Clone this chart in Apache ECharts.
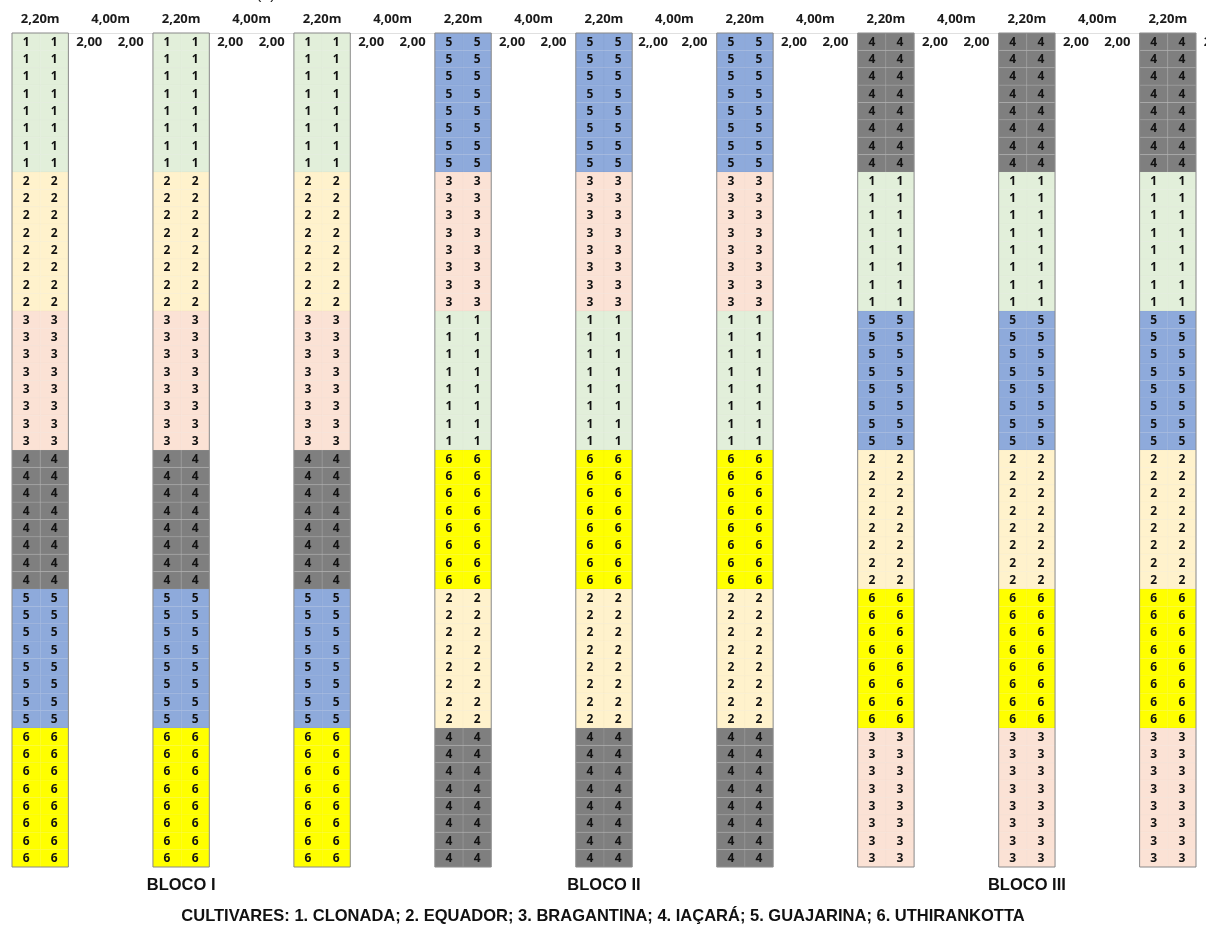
<!DOCTYPE html>
<html>
<head>
<meta charset="utf-8">
<script src="https://cdn.jsdelivr.net/npm/echarts@6/dist/echarts.min.js"></script>
<style>
html,body{margin:0;padding:0;background:#fff;}
#chart{width:1206px;height:927px;}
</style>
</head>
<body>
<div id="chart"></div>
<script>
// ---- data ----
const blockNames = ['BLOCO I', 'BLOCO II', 'BLOCO III'];
const blockOrders = [
  [1, 2, 3, 4, 5, 6],
  [5, 3, 1, 6, 2, 4],
  [4, 1, 5, 2, 6, 3]
];
const columnsPerBlock = 3;
const plotsPerCultivar = 8;
const cellsPerRow = 2;
const cultivarNames = ['CLONADA', 'EQUADOR', 'BRAGANTINA', 'IAÇARÁ', 'GUAJARINA', 'UTHIRANKOTTA'];
const widthLabel = '2,20m';
const gapLabel = '4,00m';
const spacingLabels = [
  ['2,00', '2,00'], ['2,00', '2,00'], ['2,00', '2,00'],
  ['2,00', '2,00'], ['2,,00', '2,00'], ['2,00', '2,00'],
  ['2,00', '2,00'], ['2,00', '2,00'], ['2,00']
];
const partLabel = '(a)';

// ---- styles ----
const cultivarColors = { 1: '#e2efda', 2: '#fff2cc', 3: '#fbe2d5', 4: '#7f7f7f', 5: '#8eaadb', 6: '#ffff00' };
const halfW = 0.2;

// ---- build ----
const nCols = blockNames.length * columnsPerBlock;
const nRows = 6 * plotsPerCultivar;
const cells = [];
blockOrders.forEach((order, b) => {
  for (let k = 0; k < columnsPerBlock; k++) {
    const c = b * columnsPerBlock + k;
    order.forEach((cv, g) => {
      for (let r = 0; r < plotsPerCultivar; r++) {
        for (let s = 0; s < cellsPerRow; s++) {
          cells.push([c, g * plotsPerCultivar + r, s, cv]);
        }
      }
    });
  }
});
const columns = [];
for (let c = 0; c < nCols; c++) columns.push([c]);

const topLabels = [];
for (let c = 0; c < nCols; c++) {
  topLabels.push([c, widthLabel]);
  if (c < nCols - 1) topLabels.push([c + 0.5, gapLabel]);
}
const rowLabels = [];
spacingLabels.forEach((pair, c) => {
  pair.forEach((t, i) => rowLabels.push([c + (i === 0 ? 0.348 : 0.642), t]));
});
const blockLabels = blockNames.map((n, b) => [b * columnsPerBlock + 1, n]);
const legendText = 'CULTIVARES: ' + cultivarNames.map((n, i) => (i + 1) + '. ' + n).join('; ');

const chart = echarts.init(document.getElementById('chart'));
chart.setOption({
  animation: false,
  backgroundColor: '#ffffff',
  title: {
    text: legendText,
    left: 'center',
    top: 903,
    textStyle: { fontFamily: 'Liberation Sans', fontWeight: 'bold', fontSize: 16.5, color: '#111' }
  },
  grid: { left: 12, right: 10, top: 33, bottom: 60 },
  xAxis: {
    type: 'value', min: -halfW, max: nCols - 1 + halfW,
    axisLine: { show: true, lineStyle: { color: '#e0e0e0', width: 1 } },
    axisTick: { show: false }, axisLabel: { show: false }, splitLine: { show: false }
  },
  yAxis: {
    type: 'value', min: 0, max: nRows, inverse: true, show: false,
    splitLine: { show: false }
  },
  series: [
    {
      type: 'custom', name: 'cells', data: cells, clip: false,
      renderItem: function (params, api) {
        const c = api.value(0), row = api.value(1), s = api.value(2), cv = api.value(3);
        const p0 = api.coord([c - halfW + s * halfW, row]);
        const p1 = api.coord([c - halfW + (s + 1) * halfW, row + 1]);
        return {
          type: 'group',
          children: [
            {
              type: 'rect',
              shape: { x: p0[0], y: p0[1], width: p1[0] - p0[0], height: p1[1] - p0[1] },
              style: { fill: cultivarColors[cv], stroke: cv === 4 ? 'rgba(255,255,255,0.08)' : 'rgba(0,0,0,0.015)', lineWidth: 1 }
            },
            {
              type: 'text',
              style: {
                x: (p0[0] + p1[0]) / 2, y: (p0[1] + p1[1]) / 2 + 0.5,
                text: String(cv), align: 'center', verticalAlign: 'middle',
                fontFamily: 'Open Sans', fontWeight: 'bold', fontSize: 12, fill: '#111'
              }
            }
          ]
        };
      }
    },
    {
      type: 'custom', name: 'columns', data: columns, clip: false, z: 3,
      renderItem: function (params, api) {
        const c = api.value(0);
        const p0 = api.coord([c - halfW, 0]);
        const p1 = api.coord([c + halfW, nRows]);
        return {
          type: 'rect',
          shape: { x: p0[0], y: p0[1], width: p1[0] - p0[0], height: p1[1] - p0[1] },
          style: { fill: null, stroke: '#8a8a8a', lineWidth: 1 }
        };
      }
    },
    {
      type: 'custom', name: 'topLabels', data: topLabels, clip: false,
      renderItem: function (params, api) {
        const p = api.coord([api.value(0), 0]);
        return {
          type: 'text',
          style: {
            x: p[0], y: p[1] - 14, text: topLabels[params.dataIndex][1],
            align: 'center', verticalAlign: 'middle',
            fontFamily: 'Open Sans', fontWeight: 'bold', fontSize: 13, fill: '#1a1a1a'
          }
        };
      }
    },
    {
      type: 'custom', name: 'rowLabels', data: rowLabels, clip: false,
      renderItem: function (params, api) {
        const p = api.coord([api.value(0), 0.5]);
        return {
          type: 'text',
          style: {
            x: p[0], y: p[1] + 0.5, text: rowLabels[params.dataIndex][1],
            align: 'center', verticalAlign: 'middle',
            fontFamily: 'Open Sans', fontWeight: 'bold', fontSize: 13, fill: '#1a1a1a'
          }
        };
      }
    },
    {
      type: 'custom', name: 'blockLabels', data: blockLabels, clip: false,
      renderItem: function (params, api) {
        const p = api.coord([api.value(0), nRows]);
        return {
          type: 'text',
          style: {
            x: p[0], y: p[1] + 18, text: blockLabels[params.dataIndex][1],
            align: 'center', verticalAlign: 'middle',
            fontFamily: 'Liberation Sans', fontWeight: 'bold', fontSize: 16.5, fill: '#111'
          }
        };
      }
    },
    {
      type: 'custom', name: 'partLabel', data: [[1.6]], clip: false,
      renderItem: function (params, api) {
        const p = api.coord([api.value(0), 0]);
        return {
          type: 'text',
          style: {
            x: p[0], y: p[1] - 38, text: partLabel,
            align: 'center', verticalAlign: 'middle',
            fontFamily: 'Liberation Sans', fontSize: 16, fill: '#222'
          }
        };
      }
    }
  ]
});
</script>
</body>
</html>
